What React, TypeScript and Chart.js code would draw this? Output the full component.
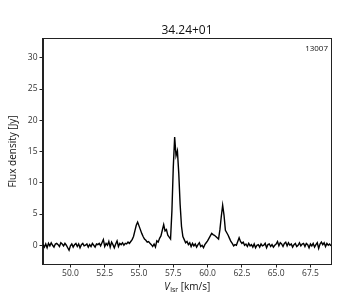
import React, { useEffect, useRef } from "react";
import { Chart, registerables } from "chart.js";

Chart.register(...registerables);

const titleText = "34.24+01";
const noteText = "13007";
const yLabel = "Flux density [Jy]";

const velocity = [
  48.0, 48.1, 48.2, 48.3, 48.4, 48.5, 48.6, 48.7, 48.8, 48.9, 49.0, 49.1, 49.2, 49.3, 49.4, 49.5, 49.6, 49.7, 49.8, 49.9, 50.0,
  50.1, 50.2, 50.3, 50.4, 50.5, 50.6, 50.7, 50.8, 50.9, 51.0, 51.1, 51.2, 51.3, 51.4, 51.5, 51.6, 51.7, 51.8, 51.9, 52.0,
  52.1, 52.2, 52.3, 52.4, 52.5, 52.6, 52.7, 52.8, 52.9, 53.0, 53.1, 53.2, 53.3, 53.4, 53.5, 53.6, 53.7, 53.8, 53.9, 54.0,
  54.1, 54.2, 54.3, 54.4, 54.5, 54.6, 54.7, 54.8, 54.9, 55.0, 55.1, 55.2, 55.3, 55.4, 55.5, 55.6, 55.7, 55.8, 55.9, 56.0,
  56.1, 56.2, 56.3, 56.4, 56.5, 56.6, 56.7, 56.8, 56.9, 57.0, 57.1, 57.2, 57.3, 57.4, 57.5, 57.6, 57.7, 57.8, 57.9, 58.0,
  58.1, 58.2, 58.3, 58.4, 58.5, 58.6, 58.7, 58.8, 58.9, 59.0,
  59.1, 59.2, 59.3, 59.4, 59.5, 59.6, 59.7, 59.8, 59.9, 60.0, 60.1, 60.2, 60.3, 60.4, 60.5, 60.6, 60.7, 60.8, 60.9, 61.0,
  61.1, 61.2, 61.3, 61.4, 61.5, 61.6, 61.7, 61.8, 61.9, 62.0, 62.1, 62.2, 62.3, 62.4, 62.5, 62.6, 62.7, 62.8, 62.9, 63.0,
  63.1, 63.2, 63.3, 63.4, 63.5, 63.6, 63.7, 63.8, 63.9, 64.0, 64.1, 64.2, 64.3, 64.4, 64.5, 64.6, 64.7, 64.8, 64.9, 65.0,
  65.1, 65.2, 65.3, 65.4, 65.5, 65.6, 65.7, 65.8, 65.9, 66.0, 66.1, 66.2, 66.3, 66.4, 66.5, 66.6, 66.7, 66.8, 66.9, 67.0,
  67.1, 67.2, 67.3, 67.4, 67.5, 67.6, 67.7, 67.8, 67.9, 68.0, 68.1, 68.2, 68.3, 68.4, 68.5, 68.6, 68.7, 68.8, 68.9, 69.0,
];

const flux = [
  0.1, -0.3, 0.2, -0.4, 0.3, -0.1, 0.4, 0.0, -0.3, 0.2, 0.3, 0.1, -0.2, 0.4, 0.2, -0.1, 0.3, 0.0, -0.4, -0.8, -0.1,
  0.2, -0.3, 0.1, 0.3, -0.2, 0.2, -0.4, 0.1, 0.3, -0.1, 0.0, 0.2, -0.3, 0.1, -0.2, 0.3, 0.0, -0.3, 0.2, 0.1,
  0.3, -0.1, 0.4, 0.9, -0.2, 0.3, 0.0, 0.6, -0.3, 0.5, 0.1, -0.4, 0.2, 0.7, -0.2, 0.3, 0.1, 0.4, 0.0, 0.3,
  0.2, 0.5, 0.3, 0.6, 0.9, 1.4, 2.3, 3.2, 3.7, 3.1, 2.5, 1.9, 1.4, 1.0, 0.8, 0.5, 0.6, 0.3, 0.1, -0.2,
  0.2, -0.3, 0.7, 0.5, 1.1, 1.5, 2.4, 3.3, 2.3, 2.5, 1.6, 1.3, 1.0, 5.5, 12.5, 17.3, 14.3, 15.1, 11.5, 6.5,
  3.0, 1.4, 0.9, 0.4, 0.6, 0.1, 0.4, -0.2, 0.3, -0.1,
  0.2, -0.3, 0.1, 0.4, -0.2, 0.0, -0.4, 0.1, 0.4, 0.7, 1.1, 1.5, 1.9, 1.7, 1.6, 1.4, 1.2, 1.0, 2.5, 4.6,
  6.4, 4.8, 2.4, 2.0, 1.6, 1.1, 0.6, 0.3, -0.1, 0.1, 0.0, 0.6, 1.2, 0.6, 0.3, 0.5, 0.0, 0.2, -0.2, 0.3,
  -0.1, 0.1, -0.3, 0.2, -0.4, 0.0, 0.1, -0.3, 0.2, -0.1, 0.0, 0.3, -0.4, 0.1, 0.2, -0.2, 0.1, -0.3, 0.0, 0.2,
  0.6, -0.1, 0.4, 0.2, -0.2, 0.3, 0.5, -0.1, 0.4, 0.0, 0.2, -0.3, 0.1, 0.3, -0.2, 0.0, 0.4, -0.1, 0.2, 0.3,
  -0.2, 0.3, 0.1, -0.4, 0.2, -0.1, 0.3, -0.3, 0.1, 0.4, -0.5, 0.2, 0.5, 0.1, 0.4, -0.2, 0.3, 0.0, 0.2, -0.1,
];

const xTicks = [50.0, 52.5, 55.0, 57.5, 60.0, 62.5, 65.0, 67.5];
const yTicks = [0, 5, 10, 15, 20, 25, 30];

const FONT = "'Open Sans', 'DejaVu Sans', sans-serif";

const decorPlugin = {
  id: "decor",
  afterDraw(chart: any) {
    const { ctx, chartArea } = chart;
    const { left, right, top, bottom } = chartArea;
    ctx.save();
    ctx.strokeStyle = "#222";
    ctx.lineWidth = 1;
    ctx.strokeRect(left - 0.5, top - 0.5, right - left + 1, bottom - top + 1);
    const cx = (left + right) / 2;
    ctx.fillStyle = "#111";
    ctx.font = `12px ${FONT}`;
    ctx.textAlign = "center";
    ctx.textBaseline = "alphabetic";
    ctx.fillText(titleText, cx, 34);
    ctx.font = `8px ${FONT}`;
    ctx.textAlign = "right";
    ctx.fillText(noteText, right - 3, top + 12);
    const y0 = 290;
    ctx.textAlign = "left";
    const fMain = `10px ${FONT}`;
    const fItal = `italic 10px ${FONT}`;
    const fSub = `7px ${FONT}`;
    ctx.font = fItal;
    const wV = ctx.measureText("V").width;
    ctx.font = fSub;
    const wS = ctx.measureText("lsr").width;
    ctx.font = fMain;
    const rest = " [km/s]";
    const wR = ctx.measureText(rest).width;
    let x = cx - (wV + wS + wR) / 2;
    ctx.font = fItal;
    ctx.fillText("V", x, y0);
    x += wV + 0.5;
    ctx.font = fSub;
    ctx.fillText("lsr", x, y0 + 2);
    x += wS;
    ctx.font = fMain;
    ctx.fillText(rest, x, y0);
    ctx.translate(16, (top + bottom) / 2);
    ctx.rotate(-Math.PI / 2);
    ctx.textAlign = "center";
    ctx.font = fMain;
    ctx.fillText(yLabel, 0, 0);
    ctx.restore();
  },
};

export default function App() {
  const ref = useRef<HTMLCanvasElement | null>(null);
  useEffect(() => {
    if (!ref.current) return;
    const points = velocity.map((v, i) => ({ x: v, y: flux[i] }));
    const chart = new Chart(ref.current, {
      type: "line",
      data: {
        datasets: [
          {
            data: points,
            borderColor: "#000",
            borderWidth: 1.4,
            pointRadius: 0,
            tension: 0,
            fill: false,
          },
        ],
      },
      options: {
        animation: false,
        responsive: false,
        maintainAspectRatio: false,
        events: [],
        layout: { padding: { left: 0, right: 29, top: 39, bottom: 0 } },
        plugins: { legend: { display: false }, tooltip: { enabled: false } },
        scales: {
          x: {
            type: "linear",
            min: 48,
            max: 69,
            afterBuildTicks: (s: any) => {
              s.ticks = xTicks.map((v) => ({ value: v }));
            },
            afterFit: (s: any) => {
              s.height = 36;
            },
            ticks: {
              color: "#333",
              font: { family: FONT, size: 8.5 },
              padding: 1,
              maxRotation: 0,
              autoSkip: false,
              callback: (v: any) => Number(v).toFixed(1),
            },
            grid: {
              display: true,
              drawOnChartArea: false,
              drawTicks: true,
              tickLength: 3.5,
              color: "#222",
            },
            border: { display: true, color: "#222" },
          },
          y: {
            type: "linear",
            min: -3,
            max: 33,
            afterBuildTicks: (s: any) => {
              s.ticks = yTicks.map((v) => ({ value: v }));
            },
            afterFit: (s: any) => {
              s.width = 43;
            },
            ticks: {
              color: "#333",
              font: { family: FONT, size: 8.5 },
              padding: 2,
              autoSkip: false,
              callback: (v: any) => String(v),
            },
            grid: {
              display: true,
              drawOnChartArea: false,
              drawTicks: true,
              tickLength: 3.5,
              color: "#222",
            },
            border: { display: true, color: "#222" },
          },
        },
      },
      plugins: [decorPlugin],
    });
    return () => chart.destroy();
  }, []);
  return (
    <div style={{ position: "fixed", left: 0, top: 0, width: 360, height: 300, background: "#fff" }}>
      <canvas ref={ref} width={360} height={300} style={{ width: 360, height: 300, display: "block" }} />
    </div>
  );
}
